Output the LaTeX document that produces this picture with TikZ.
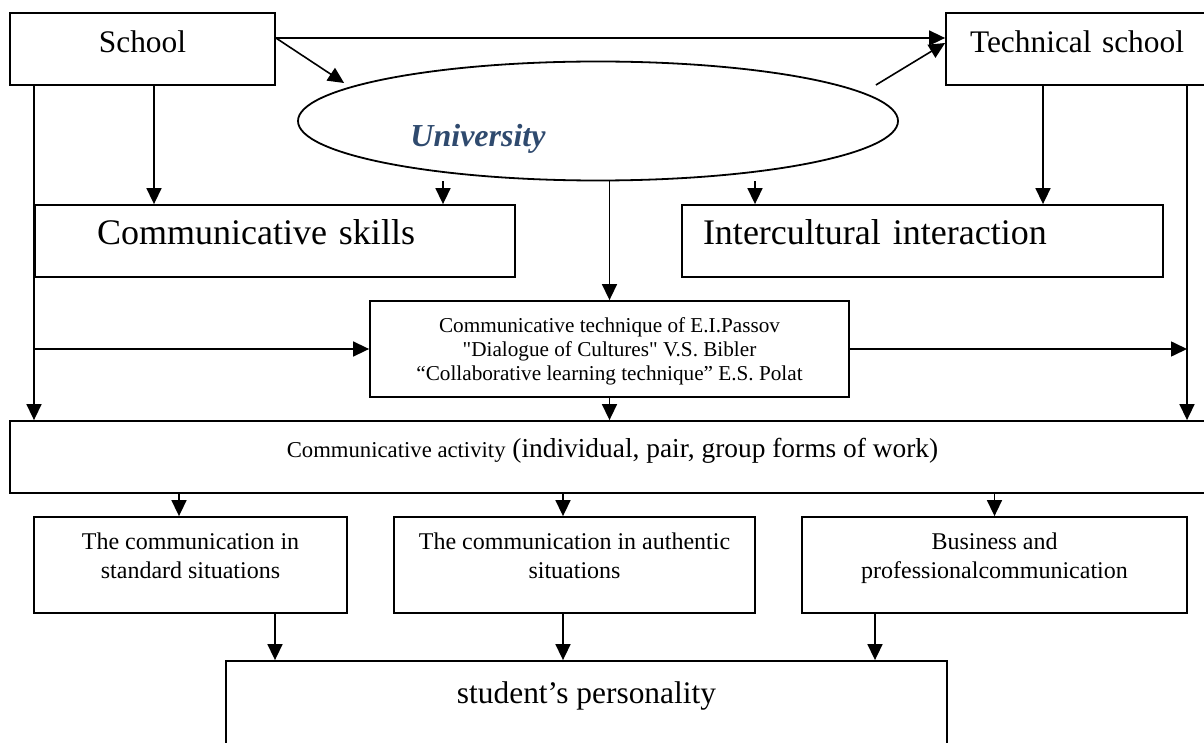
\documentclass[tikz,border=0pt]{standalone}
\usepackage{fontspec}
\setmainfont[Ligatures=TeXOff]{Liberation Serif}
\usetikzlibrary{arrows.meta,shapes.geometric}
\definecolor{unicolor}{RGB}{47,74,110}

\begin{document}
\begin{tikzpicture}[x=0.5pt, y=-0.5pt,
  box/.style={rectangle, draw, line width=0.9pt, inner sep=0pt},
  oval/.style={ellipse, draw, line width=0.9pt, inner sep=0pt},
  arr/.style={-{Triangle[length=8pt,width=7.5pt]}, line width=0.8pt},
  bigtext/.style={font=\fontsize{15.7}{19}\selectfont},
  hugetext/.style={font=\fontsize{18}{22}\selectfont},
  midtext/.style={font=\fontsize{12}{14.5}\selectfont},
  smalltext/.style={font=\fontsize{10.6}{12}\selectfont}]
\useasboundingbox (0,0) rectangle (1204,743);
\clip (0,0) rectangle (1204,743);

% top row
\node[box, bigtext, minimum width=132.5pt, minimum height=36pt, text height=11pt, text depth=7pt] (school) at (142.5,49) {School};
\node[box, bigtext, align=left, text width=110.5pt, inner xsep=12pt, minimum height=36pt, text height=11pt, text depth=7pt] (tech) at (1080.5,49) {Technical school};
\node[oval, minimum width=300pt, minimum height=59.5pt] (univ) at (598,121) {};
\node[font=\fontsize{16}{19}\selectfont\bfseries\itshape, text=unicolor, inner sep=0pt] (unilabel) at (478,139) {University};

% second row
\node[box, hugetext, align=left, text width=178pt, inner xsep=31pt, minimum height=36pt, text height=12.5pt, text depth=8.5pt] (skills) at (275,241) {Communicative skills};
\node[box, hugetext, align=left, text width=219.5pt, inner xsep=10.5pt, minimum height=36pt, text height=12.5pt, text depth=8.5pt] (inter) at (922.5,241) {Intercultural interaction};

% techniques and activity
\node[box, smalltext, align=center, minimum width=239.5pt, minimum height=48pt, text height=32pt, text depth=1pt] (method) at (609.5,349) {Communicative technique of E.I.Passov\\"Dialogue of Cultures" V.S. Bibler\\“Collaborative learning technique” E.S. Polat};
\node[box, font=\fontsize{13.7}{16}\selectfont, minimum width=602.5pt, minimum height=36pt, text height=6pt, text depth=6pt] (activity) at (612.5,457) {{\fontsize{11.35}{14}\selectfont Communicative activity} (individual, pair, group forms of work)};

% forms of communication
\node[box, midtext, align=center, minimum width=156.5pt, minimum height=48pt, text height=14pt, text depth=1pt] (comm1) at (190.5,565) {The communication in\\standard situations};
\node[box, midtext, align=center, minimum width=180.5pt, minimum height=48pt, text height=14pt, text depth=1pt] (comm2) at (574.5,565) {The communication in authentic\\situations};
\node[box, midtext, align=center, minimum width=192.5pt, minimum height=48pt, text height=14pt, text depth=1pt] (comm3) at (994.5,565) {Business and\\professionalcommunication};
\node[box, bigtext, minimum width=360.5pt, minimum height=69.5pt, text height=11pt, text depth=38.5pt] (student) at (586.5,730.5) {student’s personality};

% columns of the vertical connectors
\coordinate (lx) at (34,0);
\coordinate (sx) at (154,0);
\coordinate (k1) at (443,0);
\coordinate (k2) at (755,0);
\coordinate (tx) at (1043,0);
\coordinate (rx) at (1187,0);
\coordinate (a1) at (179,0);
\coordinate (a2) at (563,0);
\coordinate (b1) at (275,0);
\coordinate (b3) at (875,0);

\draw[arr] ([shift={(0,-11)}]school.east) -- ([shift={(0,-11)}]tech.west);
\draw[arr] ([shift={(0,-11)}]school.east) -- ([shift={(47,-38)}]univ.west);
\draw[arr] ([shift={(-23,-36)}]univ.east) -- ([shift={(0,-6)}]tech.west);

\draw[arr] (school.south -| lx) -- (activity.north -| lx);
\draw[arr] (school.south -| sx) -- (skills.north -| sx);
\draw[arr] (univ.south -| k1) -- (skills.north -| k1);
\draw[arr] (univ.south -| k2) -- (inter.north -| k2);
\draw[arr] (univ.south -| method.north) -- (method.north);
\draw[arr] (tech.south -| tx) -- (inter.north -| tx);
\draw[arr] (tech.south -| rx) -- (activity.north -| rx);
\draw[arr] (method.west -| lx) -- (method.west);
\draw[arr] (method.east) -- (method.east -| rx);
\draw[arr] (method.south) -- (activity.north -| method.south);

\draw[arr] (activity.south -| a1) -- (comm1.north -| a1);
\draw[arr] (activity.south -| a2) -- (comm2.north -| a2);
\draw[arr] (activity.south -| comm3.north) -- (comm3.north);
\draw[arr] (comm1.south -| b1) -- (student.north -| b1);
\draw[arr] (comm2.south -| a2) -- (student.north -| a2);
\draw[arr] (comm3.south -| b3) -- (student.north -| b3);
\end{tikzpicture}
\end{document}
